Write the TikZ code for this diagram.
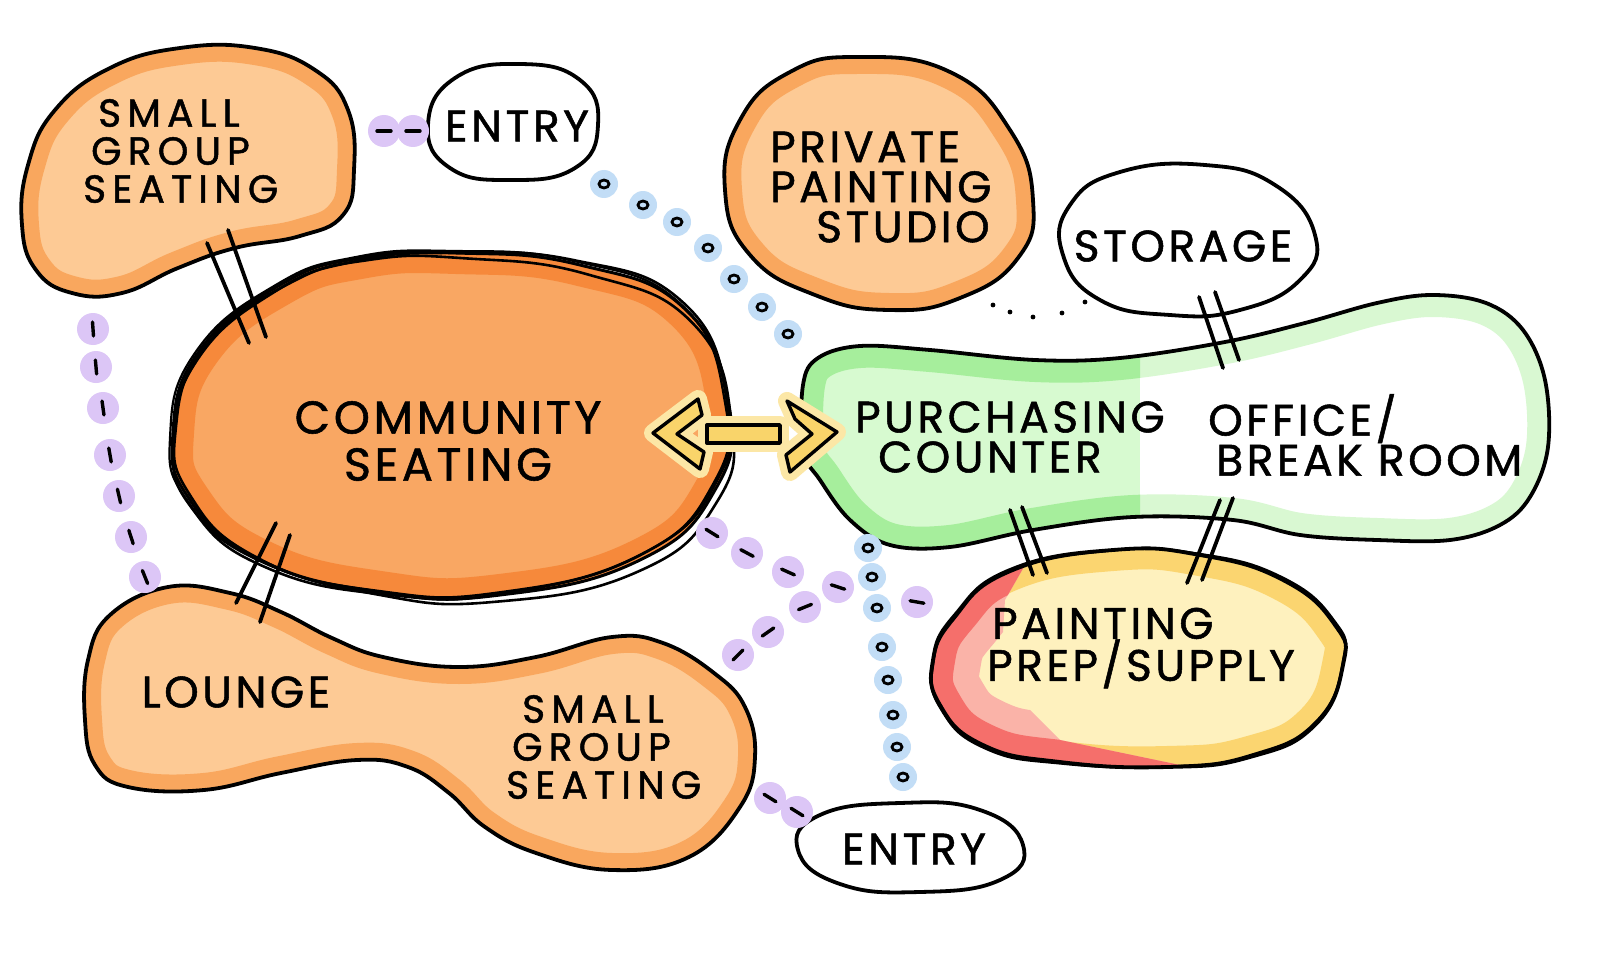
\documentclass[tikz,border=0pt]{standalone}
\usepackage{fontspec}
\usetikzlibrary{calc}
\newfontfamily\hand[LetterSpace=8,FakeBold=1.2]{Poppins}
\newfontfamily\handw[LetterSpace=16,FakeBold=1.2]{Poppins}
\definecolor{peach}{HTML}{FDCA95}
\definecolor{peachband}{HTML}{F9A75E}
\definecolor{csfill}{HTML}{F9A763}
\definecolor{csband}{HTML}{F6893B}
\definecolor{grband}{HTML}{A6EE9C}
\definecolor{grfill}{HTML}{D7FAD0}
\definecolor{grlight}{HTML}{D9F8D2}
\definecolor{ppfill}{HTML}{FEF1BE}
\definecolor{ppyel}{HTML}{FBD570}
\definecolor{ppred}{HTML}{F56F6B}
\definecolor{pppink}{HTML}{FAB3A8}
\definecolor{bluedot}{HTML}{C2DDF6}
\definecolor{purpdot}{HTML}{DCC6F6}
\definecolor{arrowyel}{HTML}{F9D46A}
\definecolor{arrowglow}{HTML}{FCE7A6}
\def\pSGSa{plot[smooth cycle, tension=0.75] coordinates {(55,110) (110,68) (180,48) (255,48) (315,70) (348,110) (354,170) (343,215) (300,236) (235,248) (178,268) (122,293) (72,293) (36,270) (22,225) (28,165)}}
\def\pLounge{plot[smooth cycle, tension=0.7] coordinates {(168,587) (230,593) (281,612) (332,638) (383,657) (459,667) (536,657) (612,637) (663,643) (714,673) (745,707) (755,757) (740,807) (689,857) (612,870) (536,853) (485,827) (449,793) (408,767) (357,760) (281,773) (204,790) (128,787) (95,765) (85,720) (88,660) (110,615)}}
\def\pPPS{plot[smooth cycle, tension=0.8] coordinates {(858,57) (950,72) (1010,130) (1033,200) (1018,258) (960,298) (889,310) (815,295) (750,255) (725,190) (740,120) (790,72)}}
\def\pStor{plot[smooth cycle, tension=0.8] coordinates {(1205,165) (1275,185) (1315,235) (1300,280) (1240,310) (1170,315) (1100,300) (1063,255) (1070,205) (1120,172)}}
\def\pEntA{plot[smooth cycle, tension=0.8] coordinates {(520,64) (580,80) (598,125) (575,168) (510,180) (450,168) (428,125) (455,78)}}
\def\pEntB{plot[smooth cycle, tension=0.8] coordinates {(900,803) (980,810) (1023,845) (1000,880) (920,892) (840,884) (798,850) (820,815)}}
\def\pCS{plot[smooth cycle, tension=0.8] coordinates {(456,253) (580,265) (686,310) (728,407) (715,490) (640,560) (500,595) (380,592) (260,560) (190,500) (173,433) (200,350) (280,285) (360,258)}}
\def\pPP{plot[smooth cycle, tension=0.8] coordinates {(1113,550) (1200,555) (1283,580) (1335,625) (1343,665) (1315,725) (1250,757) (1167,767) (1060,762) (983,745) (940,705) (933,660) (955,615) (1010,570)}}
\def\pGreen{plot[smooth cycle, tension=0.6] coordinates {(803,385) (818,358) (860,346) (930,350) (1035,360) (1120,358) (1225,342) (1305,323) (1377,303) (1432,295) (1486,303) (1523,330) (1545,380) (1548,447) (1530,497) (1500,525) (1450,540) (1377,540) (1300,535) (1233,520) (1133,517) (1033,530) (950,547) (890,545) (850,520) (820,480) (803,450)}}
\newcommand\bdot[1]{\fill[bluedot] #1 circle[radius=14]; \draw[line width=2.8pt] #1 ellipse[x radius=5, y radius=4];}
\newcommand\pdot[2]{\fill[purpdot] #1 circle[radius=16]; \draw[line width=3.4pt, line cap=round] #1 ++(#2:-7) -- ++(#2:14);}
\begin{document}
\begin{tikzpicture}[x=1pt,y=-1pt,
  outline/.style={line width=3.8pt, line join=round, line cap=round, black},
  lbl/.style={font=\hand\fontsize{44}{40}\selectfont, inner sep=0pt},
  hashline/.style={line width=3.8pt, line cap=round}]
\useasboundingbox (0,0) rectangle (1620,971);
\fill[white] (0,0) rectangle (1620,971);
% peach blobs
\foreach \p in {\pSGSa,\pLounge,\pPPS}{
  \begin{scope}
    \clip \p;
    \fill[peach] (0,0) rectangle (1620,971);
    \draw[peachband, line width=34pt] \p;
  \end{scope}
  \draw[outline] \p;
}
% white bubbles
\filldraw[outline, fill=white] \pStor;
\filldraw[outline, fill=white] \pEntA;
\filldraw[outline, fill=white] \pEntB;
% community seating
\begin{scope}
  \clip \pCS;
  \fill[csfill] (0,0) rectangle (1620,971);
  \draw[csband, line width=42pt] \pCS;
\end{scope}
\draw[outline, line width=3pt] \pCS;
\draw[outline, line width=2.6pt, rotate around={2.2:(450,423)}] \pCS;
\draw[outline, line width=2.6pt, shift={(3,5)}, rotate around={-2:(450,423)}] \pCS;
\draw[outline, line width=2.2pt, shift={(-3,-2)}, rotate around={0.8:(450,423)}] \pCS;
% green purchasing/office
\begin{scope}
  \clip \pGreen;
  \fill[white] (700,250) rectangle (1620,650);
  \draw[grlight, line width=44pt] \pGreen;
  \begin{scope}
    \clip (700,250) rectangle (1140,650);
    \fill[grfill] (700,250) rectangle (1140,650);
    \draw[grband, line width=44pt] \pGreen;
  \end{scope}
\end{scope}
\draw[outline] \pGreen;
% painting prep
\begin{scope}
  \clip \pPP;
  \fill[ppfill] (900,500) rectangle (1400,800);
  \draw[ppyel, line width=42pt] \pPP;
  \begin{scope}
    \clip (900,530) -- (1045,530) -- (1005,600) -- (1000,680) -- (1060,740) -- (1180,765) -- (1180,800) -- (900,800) -- cycle;
    \draw[pppink, line width=96pt] \pPP;
    \draw[ppred, line width=44pt] \pPP;
  \end{scope}
\end{scope}
\draw[outline] \pPP;
\draw[outline, line width=2.4pt, rotate around={1.2:(1138,658)}] \pPP;
% hash marks
\draw[hashline] (207,243) -- (249,343); \draw[hashline] (228,230) -- (266,337);
\draw[hashline] (276,523) -- (236,603); \draw[hashline] (290,535) -- (260,622);
\draw[hashline] (1199,297) -- (1223,368); \draw[hashline] (1215,292) -- (1239,360);
\draw[hashline] (1010,510) -- (1033,575); \draw[hashline] (1022,507) -- (1047,573);
\draw[hashline] (1220,500) -- (1187,583); \draw[hashline] (1233,498) -- (1202,580);
% tiny dots
\foreach \q in {(993,305),(1010,312),(1033,317),(1062,313),(1085,302)} \fill \q circle[radius=2.4];
% blue chains
\foreach \q in {(604,184),(643,205),(677,222),(708,248),(734,279),(762,307),(788,334)} {\bdot{\q}}
\foreach \q in {(868,548),(872,577),(877,608),(882,647),(888,680),(893,715),(897,747),(903,777)} {\bdot{\q}}
% purple chains
\pdot{(384,131)}{0} \pdot{(413,131)}{0}
\pdot{(93,329)}{86} \pdot{(96,367)}{85} \pdot{(103,408)}{82} \pdot{(110,455)}{80} \pdot{(119,496)}{77} \pdot{(131,537)}{72} \pdot{(145,577)}{68}
\pdot{(712,533)}{32} \pdot{(747,553)}{28} \pdot{(788,572)}{24} \pdot{(838,587)}{18} \pdot{(917,602)}{10}
\pdot{(738,655)}{-45} \pdot{(768,632)}{-35} \pdot{(805,607)}{-22}
\pdot{(770,798)}{32} \pdot{(797,812)}{32}
% double arrow
\foreach \sh in {
  {(653,433) -- (698,399) -- (702,415) -- (677,434) -- (704,452) -- (700,469) -- cycle},
  {(707,425) -- (780,425) -- (780,443) -- (707,443) -- cycle},
  {(787,401) -- (837,432) -- (790,472) -- (786,455) -- (812,434) -- (795,419) -- cycle}}{
  \draw[arrowglow, line width=18pt, line join=round] \sh;
}
\filldraw[fill=arrowyel, draw=black, line width=3.4pt, line join=round] (653,433) -- (698,399) -- (702,415) -- (677,434) -- (704,452) -- (700,469) -- cycle;
\filldraw[fill=arrowyel, draw=black, line width=3.4pt, line join=round] (707,425) -- (780,425) -- (780,443) -- (707,443) -- cycle;
\filldraw[fill=arrowyel, draw=black, line width=3.4pt, line join=round] (787,401) -- (837,432) -- (790,472) -- (786,455) -- (812,434) -- (795,419) -- cycle;
% labels
\node[lbl, anchor=west, align=left, font=\handw\fontsize{39}{38}\selectfont] (sgsA) at (83,151) {\hspace*{15pt}SMALL\\\hspace*{8pt}GROUP\\SEATING};
\node[lbl] (entA) at (517,126) {ENTRY};
\node[lbl, anchor=west, align=left, font=\hand\fontsize{44}{40}\selectfont] (pps) at (770,187) {PRIVATE\\PAINTING\\\hspace*{46pt}STUDIO};
\node[lbl] (stor) at (1183,246) {STORAGE};
\node[lbl, align=center, font=\hand\fontsize{46}{47}\selectfont] (cs) at (448,441) {COMMUNITY\\SEATING};
\node[lbl, anchor=west, align=left] (pc) at (855,437) {PURCHASING\\\hspace*{23pt}COUNTER};
\node[lbl, anchor=west, align=left] (of) at (1208,435) {OFFICE/\\\hspace*{8pt}BREAK ROOM};
\node[lbl, anchor=west, align=left, font=\hand\fontsize{44}{42}\selectfont] (pp) at (987,648) {\hspace*{5pt}PAINTING\\PREP/SUPPLY};
\node[lbl] (lng) at (236,692) {LOUNGE};
\node[lbl, anchor=west, align=left, font=\handw\fontsize{39}{38}\selectfont] (sgsB) at (506,747) {\hspace*{16pt}SMALL\\\hspace*{6pt}GROUP\\SEATING};
\node[lbl] (entB) at (914,849) {ENTRY};
\end{tikzpicture}
\end{document}
